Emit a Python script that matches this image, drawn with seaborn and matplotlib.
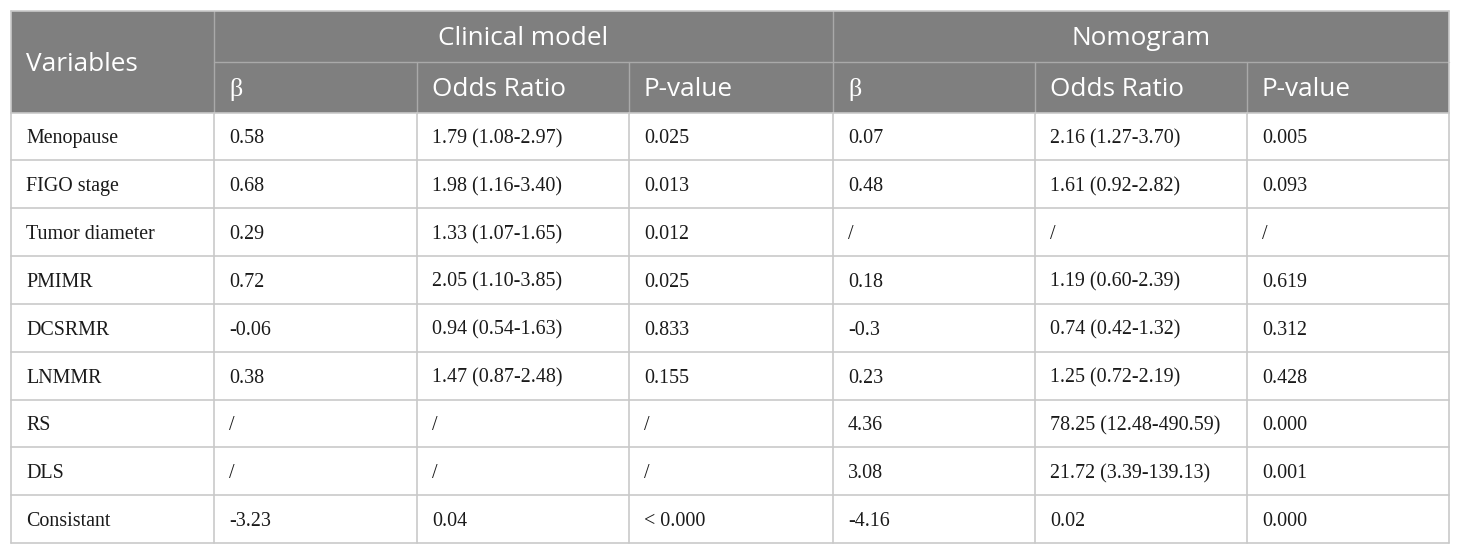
import matplotlib
matplotlib.use("Agg")
import matplotlib.pyplot as plt
import seaborn as sns
import pandas as pd
from matplotlib.patches import Rectangle

sns.set_theme(style="white")

variables = ["Menopause", "FIGO stage", "Tumor diameter", "PMIMR", "DCSRMR",
             "LNMMR", "RS", "DLS", "Consistant"]
clin_beta = ["0.58", "0.68", "0.29", "0.72", "-0.06", "0.38", "/", "/", "-3.23"]
clin_or = ["1.79 (1.08-2.97)", "1.98 (1.16-3.40)", "1.33 (1.07-1.65)",
           "2.05 (1.10-3.85)", "0.94 (0.54-1.63)", "1.47 (0.87-2.48)",
           "/", "/", "0.04"]
clin_p = ["0.025", "0.013", "0.012", "0.025", "0.833", "0.155", "/", "/", "< 0.000"]
nomo_beta = ["0.07", "0.48", "/", "0.18", "-0.3", "0.23", "4.36", "3.08", "-4.16"]
nomo_or = ["2.16 (1.27-3.70)", "1.61 (0.92-2.82)", "/", "1.19 (0.60-2.39)",
           "0.74 (0.42-1.32)", "1.25 (0.72-2.19)", "78.25 (12.48-490.59)",
           "21.72 (3.39-139.13)", "0.02"]
nomo_p = ["0.005", "0.093", "/", "0.619", "0.312", "0.428", "0.000", "0.001", "0.000"]

group_labels = ["Clinical model", "Nomogram"]
sub_labels = ["β", "Odds Ratio", "P-value"]
first_header = "Variables"

df = pd.DataFrame({
    "var": variables, "cb": clin_beta, "co": clin_or, "cp": clin_p,
    "nb": nomo_beta, "no": nomo_or, "np": nomo_p,
})

W, H = 1460, 554
fig = plt.figure(figsize=(W / 100, H / 100), dpi=100)
ax = fig.add_axes([0, 0, 1, 1])
ax.set_xlim(0, W)
ax.set_ylim(H, 0)
ax.axis("off")

col_x = [11, 214, 417, 629, 833, 1035, 1247, 1449]
top, mid, hbot, bot = 11, 62, 112.5, 543
nrows = len(df)
rh = (bot - hbot) / nrows

header_fill = "#7f7f7f"
header_line = "#a9a9a9"
grid = "#c9c9c9"
sans = ["Open Sans", "DejaVu Sans"]
serif = ["Liberation Serif", "DejaVu Serif"]
hfs = 18.8
bfs = 14.4

# header background
ax.add_patch(Rectangle((col_x[0], top), col_x[-1] - col_x[0], hbot - top,
                       facecolor=header_fill, edgecolor="none", zorder=1))
# header divider lines
ax.plot([col_x[1], col_x[-1]], [mid, mid], color=header_line, lw=1, zorder=2)
for x in col_x[1:-1]:
    if x in (col_x[1], col_x[4]):
        ax.plot([x, x], [top, hbot], color=header_line, lw=1, zorder=2)
    else:
        ax.plot([x, x], [mid, hbot], color=header_line, lw=1, zorder=2)

# header texts
pad = 15
ax.text(col_x[0] + pad, 71, first_header, color="white",
        fontsize=hfs, family=sans, ha="left", va="baseline", zorder=3)
ax.text((col_x[1] + col_x[4]) / 2, 45, group_labels[0], color="white",
        fontsize=hfs, family=sans, ha="center", va="baseline", zorder=3)
ax.text((col_x[4] + col_x[7]) / 2, 45, group_labels[1], color="white",
        fontsize=hfs, family=sans, ha="center", va="baseline", zorder=3)
for g in range(2):
    for j, lab in enumerate(sub_labels):
        x = col_x[1 + g * 3 + j] + pad
        fam = serif if lab == "β" else sans
        ax.text(x, 96, lab, color="white", fontsize=hfs,
                family=fam, ha="left", va="baseline", zorder=3)

# body grid lines
for i in range(nrows + 1):
    y = hbot + i * rh
    ax.plot([col_x[0], col_x[-1]], [y, y], color=grid, lw=1.2, zorder=2)
for x in col_x:
    ax.plot([x, x], [hbot, bot], color=grid, lw=1.2, zorder=2)
ax.plot([col_x[0], col_x[0]], [top, hbot], color=grid, lw=1.2, zorder=2)
ax.plot([col_x[-1], col_x[-1]], [top, hbot], color=grid, lw=1.2, zorder=2)
ax.plot([col_x[0], col_x[-1]], [top, top], color=grid, lw=1.2, zorder=2)

cols = ["var", "cb", "co", "cp", "nb", "no", "np"]
for i, row in df.iterrows():
    yb = hbot + (i + 0.5) * rh + 7
    for j, c in enumerate(cols):
        ax.text(col_x[j] + pad, yb, row[c], color="#1a1a1a", fontsize=bfs,
                family=serif, ha="left", va="baseline", zorder=3)

fig.savefig("out.png", dpi=100, facecolor="white")
